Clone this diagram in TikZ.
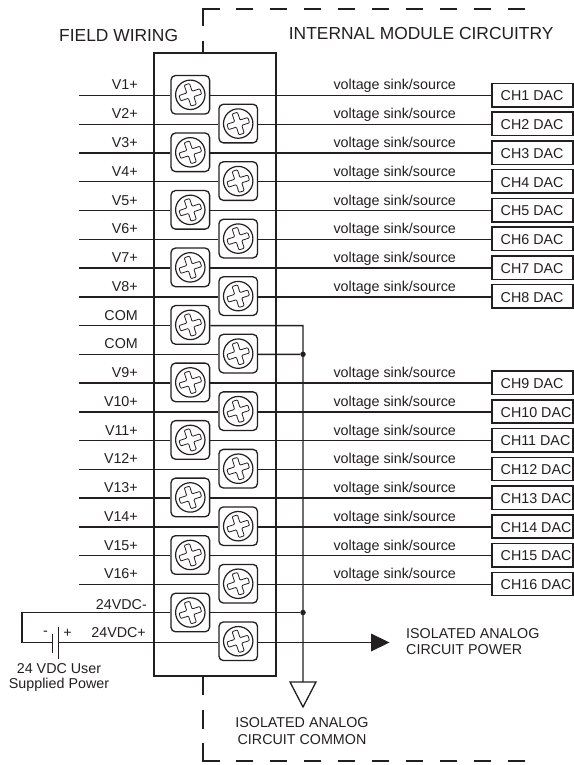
\documentclass[tikz,border=0pt]{standalone}
\usepackage{fontspec}
\setmainfont{Liberation Sans}
\definecolor{ink}{HTML}{231F20}
\tikzset{
  wire/.style={draw=ink,line width=1.4pt},
  heavy/.style={draw=ink,line width=2pt},
  dashline/.style={draw=ink,line width=2pt,dash pattern=on 17pt off 17pt},
  term/.style={draw=ink,line width=1.3pt,rounded corners=4.5pt,minimum size=38.6pt,inner sep=0pt,fill=white},
  screwhead/.style={draw=ink,line width=1.2pt,circle,minimum size=29.4pt,inner sep=0pt},
  dacbox/.style={draw=ink,line width=1.5pt,minimum width=81pt,minimum height=23.4pt,inner sep=0pt,fill=white},
  lbl/.style={text=ink,font=\fontsize{14.3}{16}\selectfont,inner sep=0pt},
  bigl/.style={text=ink,font=\fontsize{17.4}{20}\selectfont,inner sep=0pt},
  dot/.style={circle,fill=ink,inner sep=0pt,minimum size=5.5pt}
}
\begin{document}
\begin{tikzpicture}[x=1pt,y=-1pt]
\useasboundingbox (0,0) rectangle (573,765);
% module
\node[heavy,draw,minimum width=122pt,minimum height=623pt,inner sep=0pt] (module) at (215,364.5) {};
% dashed boundary
\coordinate (topc) at (202.5,9);
\coordinate (botc) at (202.5,761);
\draw[heavy] (202.5,26) -- (topc) -- (220,9);
\draw[heavy] (202.5,41) -- (202.5,53);
\draw[dashline] (236,9) -- (525,9);
\draw[heavy] (202.5,676) -- (202.5,695);
\draw[heavy] (202.5,710) -- (202.5,729);
\draw[heavy] (202.5,743) -- (botc) -- (220,761);
\draw[dashline] (236,761) -- (525,761);
% terminals
\foreach \i in {0,...,19}{
  \pgfmathsetmacro{\yy}{95.5+28.76*\i}
  \pgfmathsetmacro{\xx}{mod(\i,2)==0 ? 190.3 : 238.2}
  \coordinate (a\i) at (79,\yy);
  \node[term] (t\i) at (\xx,\yy-0.7) {};
  \node[screwhead] (s\i) at (t\i.center) {};
  \draw[ink,line width=0.8pt,rounded corners=0.9pt,rotate around={18:(s\i.center)},shift={(s\i.center)}]
    (-2.8,-11) -- (2.8,-11) -- (2.8,-2.8) -- (11,-2.8) -- (11,2.8) -- (2.8,2.8) -- (2.8,11) -- (-2.8,11) -- (-2.8,2.8) -- (-11,2.8) -- (-11,-2.8) -- (-2.8,-2.8) -- cycle;
}
% left wires and labels
\foreach \i/\lab in {0/V1+,1/V2+,2/V3+,3/V4+,4/V5+,5/V6+,6/V7+,7/V8+,8/COM,9/COM,10/V9+,11/V10+,12/V11+,13/V12+,14/V13+,15/V14+,16/V15+,17/V16+}{
  \draw[wire] (a\i) -- (a\i -| t\i.west);
  \node[lbl,anchor=base east] (l\i) at ([xshift=59pt,yshift=5.5pt]a\i) {\lab};
}
% right wires, DAC boxes
\foreach \i/\ch in {0/1,1/2,2/3,3/4,4/5,5/6,6/7,7/8,10/9,11/10,12/11,13/12,14/13,15/14,16/15,17/16}{
  \node[dacbox] (b\i) at ([xshift=453.5pt,yshift=0.4pt]a\i) {};
  \node[lbl,anchor=base west] (c\i) at ([xshift=421.5pt,yshift=-5.3pt]a\i) {CH\ch{} DAC};
  \node[lbl,anchor=base west] (v\i) at ([xshift=254.3pt,yshift=5.5pt]a\i) {voltage sink/source};
  \draw[wire] (a\i -| t\i.east) -- (a\i -| b\i.west);
}
% common bus
\coordinate (com1) at (303,325.6);
\node[dot] (j1) at (303,354.3) {};
\node[dot] (j2) at (303,612.5) {};
\coordinate (gt) at (303,682);
\draw[wire] (a8 -| t8.east) -- (com1) -- (gt);
\draw[wire] (a9 -| t9.east) -- (j1);
% ground triangle
\draw[ink,line width=1.3pt,line join=miter] (290,682) -- (316,682) -- (303,707) -- cycle;
% 24 V terminals
\coordinate (lc1) at (22,612.5);
\coordinate (lc2) at (22,642.5);
\coordinate (p1) at (52.5,642.5);
\coordinate (p2) at (58.5,642.5);
\draw[wire] (t18.west |- lc1) -- (lc1) -- (lc2) -- (p1);
\draw[wire] (p2) -- (t19.west |- p2);
\draw[ink,line width=1.4pt] (52.5,634) -- (52.5,652.7);
\draw[ink,line width=1.4pt] (58.5,627) -- (58.5,659);
\draw[wire] (t18.east |- lc1) -- (j2);
% power arrow
\coordinate (pa) at (371,642.5);
\draw[wire] (t19.east |- pa) -- (pa);
\fill[ink] (371,633.5) -- (389.5,642.5) -- (371,651.5) -- cycle;
% labels
\node[bigl,anchor=base west] (fw) at (59,41.7) {FIELD WIRING};
\node[bigl,anchor=base west] (im) at (288.7,40) {INTERNAL MODULE CIRCUITRY};
\node[lbl,anchor=base east] (n24m) at (147,609) {24VDC-};
\node[lbl,anchor=base east] (n24p) at (146,637) {24VDC+};
\node[lbl,anchor=base] (mn) at (45.5,635) {-};
\node[lbl,anchor=base] (pl) at (67.5,637) {+};
\node[lbl,anchor=base] (u1) at (59,673) {24 VDC User};
\node[lbl,anchor=base] (u2) at (59,688) {Supplied Power};
\node[lbl,anchor=base west] (ip1) at (406,638) {ISOLATED ANALOG};
\node[lbl,anchor=base west] (ip2) at (406,654) {CIRCUIT POWER};
\node[lbl,anchor=base] (ic1) at (302,727.7) {ISOLATED ANALOG};
\node[lbl,anchor=base] (ic2) at (302,744) {CIRCUIT COMMON};
\end{tikzpicture}
\end{document}
